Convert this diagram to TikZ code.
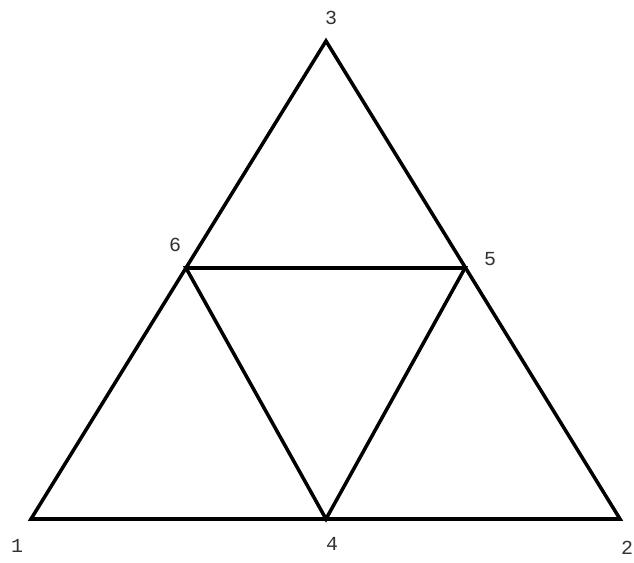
\documentclass[tikz,border=0pt]{standalone}
\usepackage{fontspec}
\setmonofont{Liberation Mono}
\usetikzlibrary{positioning,calc}
\definecolor{edge}{RGB}{0,0,0}
\definecolor{labelgray}{RGB}{50,50,50}

\begin{document}
\begin{tikzpicture}[x=0.03cm, y=-0.03cm,
    side/.style={edge, line width=3pt, line join=miter},
    vlabel/.style={font=\ttfamily\fontsize{17}{19}\selectfont, text=labelgray, inner sep=0pt}]

    % frame of the picture
    \useasboundingbox (0,0) rectangle (634,563);

    % corners and points on the sides
    \coordinate (v1) at (31,519);
    \coordinate (v2) at (620,519);
    \coordinate (v3) at (326,41);
    \coordinate (v4) at (326,519);
    \coordinate (v5) at (465,268);
    \coordinate (v6) at (186,268);

    % numbers at the vertices
    \node[vlabel] (l1) at (17,546) {1};
    \node[vlabel] (l2) at (627,548) {2};
    \node[vlabel] (l3) at (331,18) {3};
    \node[vlabel] (l4) at (332,544) {4};
    \node[vlabel] (l5) at (490,259) {5};
    \node[vlabel] (l6) at (175,245) {6};

    % outer triangle
    \draw[side] (v1) -- (v2) -- (v3) -- cycle;

    % inner triangle
    \draw[side] (v4) -- (v5) -- (v6) -- cycle;

\end{tikzpicture}
\end{document}
